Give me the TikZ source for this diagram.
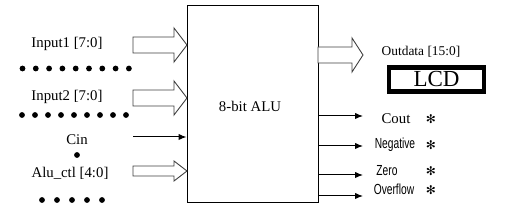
\documentclass[tikz,border=0pt]{standalone}
\usepackage{fontspec}
\setmainfont{Liberation Serif}
\newfontfamily\narrowsans{Liberation Sans}
\newfontfamily\symfont{DejaVu Sans}
\usetikzlibrary{arrows.meta}
\newcommand\fatarrow[6]{% x0, x1(tip), centre y, shaft half, head half, head length
  \draw[busarrow] (#1,#3-#4) -- (#2-#6,#3-#4) -- (#2-#6,#3-#5) -- (#2,#3)
    -- (#2-#6,#3+#5) -- (#2-#6,#3+#4) -- (#1,#3+#4) -- cycle;}
\newcommand\narrowtxt[1]{\scalebox{0.7}[1]{#1}}
\begin{document}
\begin{tikzpicture}[x=0.5pt,y=-0.5pt,
  lbl/.style={font=\fontsize{7.4}{8}\selectfont, inner sep=0},
  dotmark/.style={circle, fill=black, inner sep=0, minimum size=2.9pt},
  busarrow/.style={draw=black!75, line width=0.45pt, fill=white},
  sigarrow/.style={-{Latex[length=4pt,width=3.2pt]}, line width=0.5pt},
  flag/.style={font=\narrowsans\fontsize{7.3}{8}\selectfont, inner sep=0},
  starmark/.style={font=\symfont\fontsize{6}{6}\selectfont, inner sep=0}]
\useasboundingbox (0,0) rectangle (526,212);

% ALU block
\node[draw, line width=0.5pt, inner sep=0, minimum width=65.5pt, minimum height=98.5pt] (alu) at (252.5,104.5) {};
\node[lbl] (alutxt) at (250,106) {8-bit ALU};

% Inputs
\node[lbl] (in1) at (67,44) {Input1 [7:0]};
\fatarrow{133}{187}{45}{8}{17}{13}
\foreach \i in {0,...,8} \node[dotmark] (da\i) at (22.5+13.3*\i,68.5) {};

\node[lbl] (in2) at (67,97) {Input2 [7:0]};
\fatarrow{133}{187}{98}{8}{17}{13}
\foreach \i in {0,...,8} \node[dotmark] (db\i) at (22+13*\i,115) {};

\node[lbl] (cin) at (77,140) {Cin};
\coordinate (cinstart) at (133,137);
\draw[sigarrow] (cinstart) -- (cinstart -| alu.west);
\node[dotmark] (dc) at (77,155) {};

\node[lbl] (ctl) at (70,173) {Alu\_ctl [4:0]};
\fatarrow{133}{187}{171}{5}{10}{13}
\foreach \i in {0,...,4} \node[dotmark] (dd\i) at (42+15*\i,200) {};

% Outputs
\fatarrow{318}{363}{55}{8}{17}{11}
\node[font=\fontsize{6.7}{8}\selectfont, inner sep=0] (out) at (421,51.5) {Outdata [15:0]};
\node[draw, line width=2.2pt, inner sep=0, minimum width=47.5pt, minimum height=12pt,
  font=\fontsize{11.5}{12}\selectfont] (lcd) at (436.5,79.5) {LCD};

\coordinate (o1) at (363,116);
\coordinate (o2) at (363,146);
\coordinate (o3) at (363,175);
\coordinate (o4) at (363,196);
\foreach \o in {o1,o2,o3,o4} \draw[sigarrow] (alu.east |- \o) -- (\o);

\node[lbl] (cout) at (396,119) {Cout};
\node[flag] (neg) at (395,145) {\narrowtxt{Negative}};
\node[flag] (zero) at (387,171) {\narrowtxt{Zero}};
\node[flag] (ovf) at (394,189) {\narrowtxt{Overflow}};
\foreach \y/\n in {119/s1,145/s2,171/s3,190/s4} \node[starmark] (\n) at (431,\y) {✻};
\end{tikzpicture}
\end{document}
